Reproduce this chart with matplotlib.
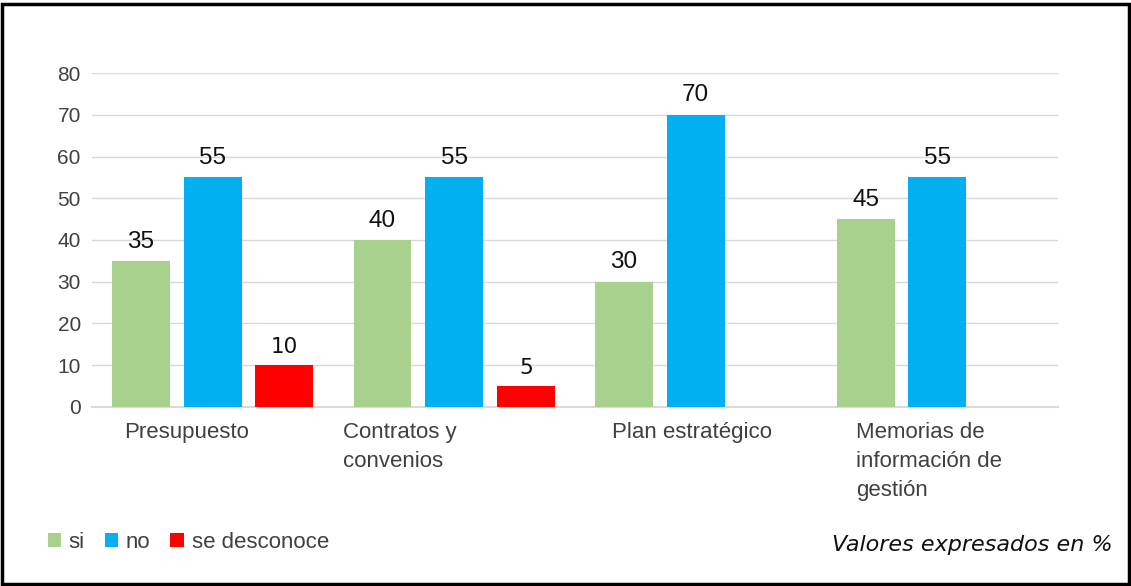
import numpy as np
import matplotlib
matplotlib.use("Agg")
import matplotlib.pyplot as plt
from matplotlib.patches import Rectangle

# data
categories = ["Presupuesto", "Contratos y\nconvenios", "Plan estratégico",
              "Memorias de\ninformación de\ngestión"]
series = ["si", "no", "se desconoce"]
si_vals = [35, 40, 30, 45]
no_vals = [55, 55, 70, 55]
desc_vals = [10, 5, None, None]
yticks = [0, 10, 20, 30, 40, 50, 60, 70, 80]
note = "Valores expresados en %"

colors = ["#A9D18E", "#00B0F0", "#FF0000"]
tick_color = "#404040"

fig = plt.figure(figsize=(11.31, 5.86), dpi=100)
ax = fig.add_axes([0.0813, 0.3055, 0.8542, 0.5699])

x = np.arange(len(categories))
width = 0.24
offsets = [-0.297, 0.0, 0.297]

all_vals = [si_vals, no_vals, desc_vals]
for vals, off, col, name in zip(all_vals, offsets, colors, series):
    xs = [xi + off for xi, v in zip(x, vals) if v is not None]
    hs = [v for v in vals if v is not None]
    bars = ax.bar(xs, hs, width=width, color=col, label=name, zorder=3)
    for b, v in zip(bars, hs):
        if name == "se desconoce":
            ax.annotate(str(v), (b.get_x() + b.get_width() / 2, v),
                        xytext=(0, 6), textcoords="offset points",
                        ha="center", va="bottom", fontsize=15.5,
                        family="DejaVu Sans", color="#111111")
        else:
            ax.annotate(str(v), (b.get_x() + b.get_width() / 2, v),
                        xytext=(0, 6), textcoords="offset points",
                        ha="center", va="bottom", fontsize=17.5,
                        family="Liberation Sans", color="#111111")

ax.set_xlim(-0.5, len(categories) - 0.5)
ax.set_ylim(0, 80)
ax.set_yticks(yticks)
ax.set_yticklabels([str(t) for t in yticks], fontsize=15,
                   family="Liberation Sans", color=tick_color)
ax.tick_params(axis="y", length=0, pad=8)
ax.set_xticks([])
ax.grid(axis="y", color="#D9D9D9", linewidth=1, zorder=0)
for s in ["top", "right", "left"]:
    ax.spines[s].set_visible(False)
ax.spines["bottom"].set_color("#D9D9D9")
ax.spines["bottom"].set_linewidth(1.5)

# category labels, left aligned blocks under each group
label_shift = [-0.367, -0.46, -0.345, -0.335]
for xi, lab, sh in zip(x, categories, label_shift):
    ax.text(xi + sh, -0.045, lab, transform=ax.get_xaxis_transform(),
            ha="left", va="top", fontsize=16, family="Liberation Sans",
            color=tick_color, linespacing=1.5)

# legend
leg = fig.legend(loc="lower left", bbox_to_anchor=(0.042, 0.057), ncol=3,
                 frameon=False, prop={"family": "Liberation Sans", "size": 16},
                 handlelength=0.6, handleheight=0.6, handletextpad=0.35,
                 columnspacing=0.9, borderaxespad=0, borderpad=0)
for t in leg.get_texts():
    t.set_color(tick_color)

fig.text(0.984, 0.06, note, ha="right", va="baseline", fontsize=16,
         family="DejaVu Sans", style="italic", color="#111111")

# outer frame
fig.patches.append(Rectangle((0.0015, 0.003), 0.997, 0.99, transform=fig.transFigure,
                             fill=False, edgecolor="black", linewidth=2.5))

fig.savefig("out.png", dpi=100)
